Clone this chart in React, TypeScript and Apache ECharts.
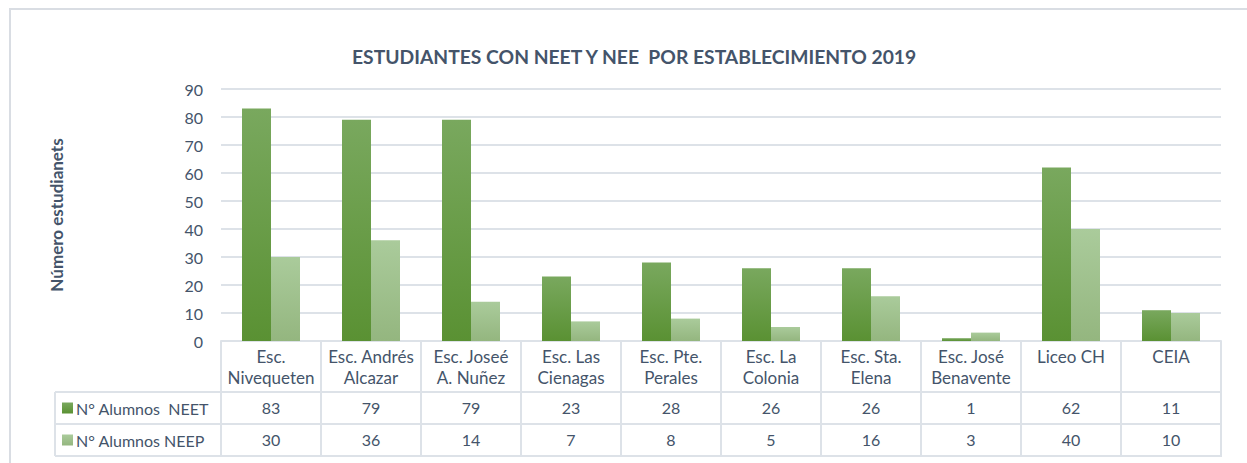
import React, { useEffect, useRef } from "react";
import * as echarts from "echarts";

const titleText = "ESTUDIANTES CON NEET Y NEE  POR ESTABLECIMIENTO 2019";
const yAxisTitle = "Número estudianets";
const categories = [
  "Esc.\nNivequeten",
  "Esc. Andrés\nAlcazar",
  "Esc. Joseé\nA. Nuñez",
  "Esc. Las\nCienagas",
  "Esc. Pte.\nPerales",
  "Esc. La\nColonia",
  "Esc. Sta.\nElena",
  "Esc. José\nBenavente",
  "Liceo CH",
  "CEIA",
];
const seriesNames = ["N° Alumnos  NEET", "N° Alumnos NEEP"];
const neet = [83, 79, 79, 23, 28, 26, 26, 1, 62, 11];
const neep = [30, 36, 14, 7, 8, 5, 16, 3, 40, 10];
const yTicks = { min: 0, max: 90, interval: 10 };

const TEXT = "#44546a";
const LINE = "#dde2e8";
const FONT = "Lato";

export default function App() {
  const ref = useRef<HTMLDivElement>(null);
  useEffect(() => {
    if (!ref.current) return;
    const chart = echarts.init(ref.current, null, { renderer: "svg" });
    const gridLeft = 221;
    const gridRight = 1221;
    const axisY = 341;
    const row1 = 392;
    const row2 = 424;
    const row3 = 456;
    const legendLeft = 55;
    const valueAxis = (vals: number[], margin: number) => ({
      type: "category",
      data: categories,
      position: "bottom",
      gridIndex: 0,
      axisLine: { show: false },
      axisTick: { show: false },
      axisLabel: {
        interval: 0,
        margin,
        color: TEXT,
        fontFamily: FONT,
        fontSize: 16,
        lineHeight: 20,
        formatter: (_: string, i: number) => String(vals[i]),
      },
    });
    chart.setOption({
      animation: false,
      textStyle: { fontFamily: FONT },
      title: {
        text: titleText,
        left: 347,
        top: 42,
        textStyle: { color: TEXT, fontFamily: FONT, fontWeight: "bold", fontSize: 19.3 },
      },
      legend: {
        orient: "vertical",
        left: 62,
        top: 398,
        padding: 0,
        itemWidth: 11,
        itemHeight: 11,
        itemGap: 12,
        icon: "rect",
        selectedMode: false,
        textStyle: { color: TEXT, fontFamily: FONT, fontSize: 16, lineHeight: 20, padding: [0, 0, 0, -2] },
        data: seriesNames,
      },
      grid: { left: gridLeft, right: 1247 - gridRight, top: 89, bottom: 463 - axisY },
      xAxis: [
        {
          type: "category",
          data: categories,
          position: "bottom",
          axisLine: { show: true, lineStyle: { color: LINE, width: 2 } },
          axisTick: { show: true, interval: 0, length: row3 - axisY, lineStyle: { color: LINE, width: 2 } },
          axisLabel: {
            interval: 0,
            margin: 5,
            color: TEXT,
            fontFamily: FONT,
            fontSize: 17,
            lineHeight: 21,
          },
        },
        valueAxis(neet, row1 - axisY + 5),
        valueAxis(neep, row2 - axisY + 5),
      ],
      yAxis: {
        type: "value",
        min: yTicks.min,
        max: yTicks.max,
        interval: yTicks.interval,
        name: yAxisTitle,
        nameLocation: "middle",
        nameRotate: 90,
        nameGap: 156,
        nameTextStyle: { color: TEXT, fontFamily: FONT, fontWeight: "bold", fontSize: 17 },
        axisLine: { show: false },
        axisTick: { show: false },
        axisLabel: { color: TEXT, fontFamily: FONT, fontSize: 16, margin: 18 },
        splitLine: { lineStyle: { color: LINE, width: 2 } },
      },
      series: [
        {
          name: seriesNames[0],
          type: "bar",
          data: neet,
          barWidth: 29,
          barGap: "0%",
          itemStyle: {
            color: new echarts.graphic.LinearGradient(0, 0, 0, 1, [
              { offset: 0, color: "#79a85e" },
              { offset: 1, color: "#5a9133" },
            ]),
          },
        },
        {
          name: seriesNames[1],
          type: "bar",
          data: neep,
          barWidth: 29,
          barGap: "0%",
          itemStyle: {
            color: new echarts.graphic.LinearGradient(0, 0, 0, 1, [
              { offset: 0, color: "#aacb9b" },
              { offset: 1, color: "#94b67f" },
            ]),
          },
        },
      ],
      graphic: [
        {
          type: "rect",
          shape: { x: 10, y: 9, width: 1400, height: 600 },
          style: { fill: "none", stroke: "#d9dde3", lineWidth: 2 },
          silent: true,
          z: -10,
        },
        ...[row1, row2, row3].map((y) => ({
          type: "line",
          shape: { x1: legendLeft, y1: y, x2: gridRight + 1, y2: y },
          style: { stroke: LINE, lineWidth: 2 },
          silent: true,
        })),
        {
          type: "line",
          shape: { x1: legendLeft, y1: row1, x2: legendLeft, y2: row3 },
          style: { stroke: LINE, lineWidth: 2 },
          silent: true,
        },
      ],
    });
    return () => chart.dispose();
  }, []);
  return (
    <div
      ref={ref}
      style={{ position: "absolute", left: 0, top: 0, width: 1247, height: 463, background: "#fff" }}
    />
  );
}
